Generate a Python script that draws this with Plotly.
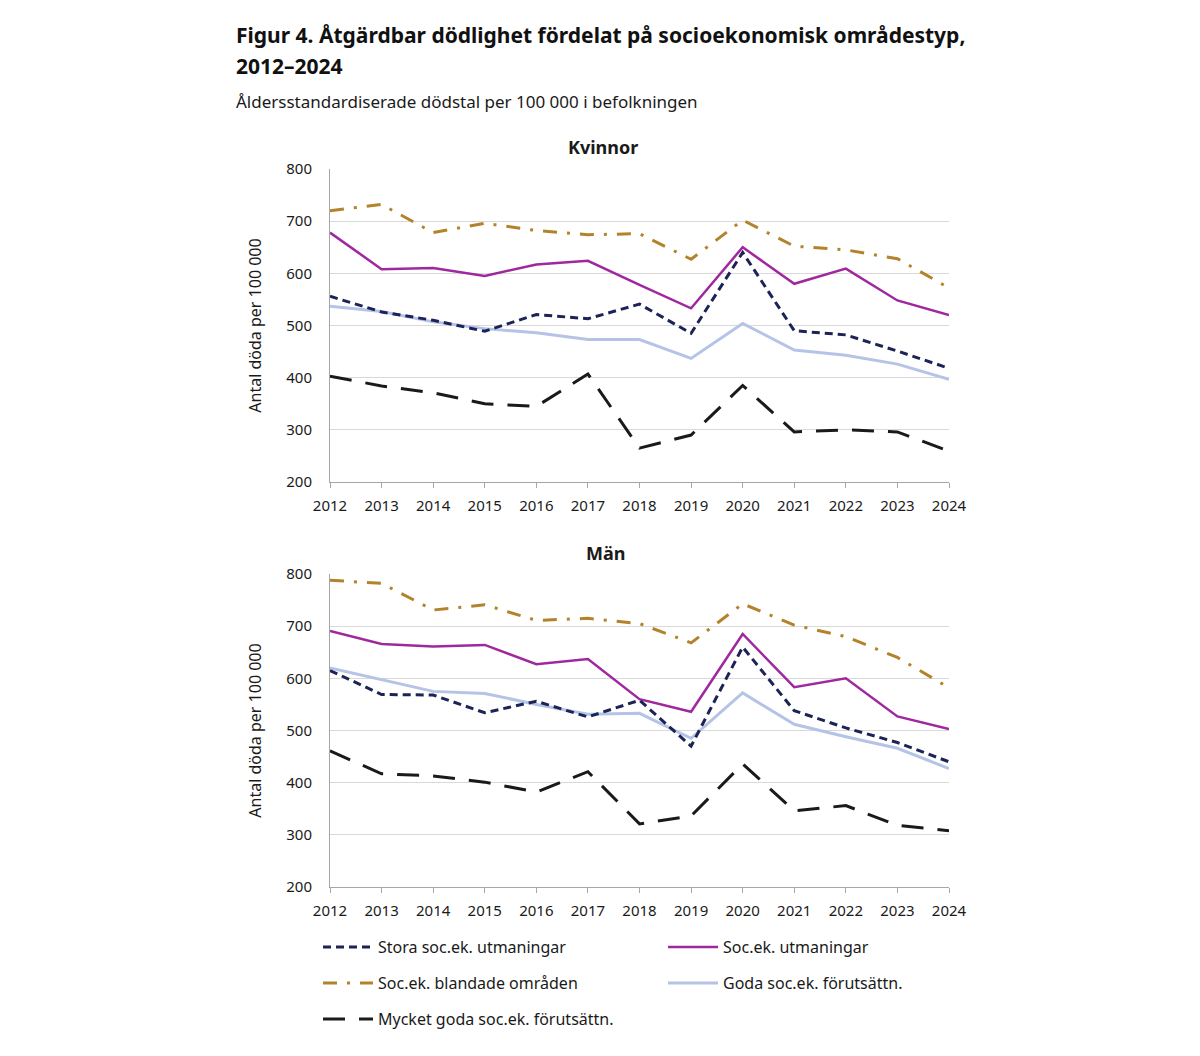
import plotly.graph_objects as go

years = list(range(2012, 2025))

series_names = [
    "Stora soc.ek. utmaningar",
    "Soc.ek. utmaningar",
    "Soc.ek. blandade områden",
    "Goda soc.ek. förutsättn.",
    "Mycket goda soc.ek. förutsättn.",
]

# Kvinnor
k_stora = [556, 526, 510, 489, 521, 513, 541, 485, 640, 490, 482, 451, 418]
k_utman = [678, 608, 610, 595, 617, 624, 578, 533, 650, 580, 609, 548, 520]
k_bland = [720, 732, 678, 696, 682, 674, 676, 627, 702, 652, 645, 628, 572]
k_goda = [537, 527, 507, 494, 486, 473, 473, 437, 504, 453, 443, 426, 397]
k_mycket = [403, 384, 371, 350, 345, 407, 265, 290, 385, 296, 300, 296, 259]

# Män
m_stora = [615, 569, 568, 534, 556, 526, 558, 470, 660, 538, 505, 477, 440]
m_utman = [691, 666, 661, 664, 627, 637, 560, 536, 685, 583, 600, 527, 503]
m_bland = [788, 782, 731, 741, 711, 715, 705, 668, 743, 702, 680, 640, 582]
m_goda = [620, 597, 575, 571, 550, 531, 533, 485, 572, 512, 488, 466, 427]
m_mycket = [461, 417, 413, 401, 382, 421, 321, 336, 436, 346, 356, 318, 308]

styles = [
    dict(color="#1c2356", width=3, dash="8px,5px"),
    dict(color="#a0289f", width=2.5, dash="solid"),
    dict(color="#b3832b", width=3, dash="14px,10px,3px,10px"),
    dict(color="#b5c4e6", width=3, dash="solid"),
    dict(color="#1a1a1a", width=3, dash="22px,14px"),
]
legend_ids = ["legend", "legend", "legend2", "legend2", "legend3"]

FONT = "Noto Sans"
fig = go.Figure()

kv = [k_stora, k_utman, k_bland, k_goda, k_mycket]
mn = [m_stora, m_utman, m_bland, m_goda, m_mycket]

# draw order: light lines first so dark lines sit on top
order = [3, 2, 1, 4, 0]
for i in order:
    fig.add_trace(go.Scatter(x=years, y=kv[i], mode="lines", line=styles[i],
                             name=series_names[i], showlegend=False,
                             xaxis="x", yaxis="y", hoverinfo="x+y+name"))
for i in order:
    fig.add_trace(go.Scatter(x=years, y=mn[i], mode="lines", line=styles[i],
                             name=series_names[i], showlegend=True,
                             legend=legend_ids[i], legendrank=i,
                             xaxis="x2", yaxis="y2", hoverinfo="x+y+name"))

W, H = 1200, 1056
x0, x1 = 330 / W, 949 / W
top_dom = [(H - 482) / H, (H - 169) / H]
bot_dom = [(H - 887) / H, (H - 574) / H]

xcommon = dict(range=[2012, 2024], tickmode="array", tickvals=years,
               ticktext=[str(y) for y in years], showgrid=False,
               showline=True, linecolor="#a6a6a6", linewidth=1,
               ticks="outside", ticklen=5, tickcolor="#a6a6a6",
               ticklabelstandoff=5,
               tickfont=dict(family=FONT, size=15, color="#1a1a1a"),
               zeroline=False, fixedrange=True, automargin=False)
ycommon = dict(range=[200, 800], dtick=100, showgrid=True, gridcolor="#d9d9d9",
               gridwidth=1, showline=True, linecolor="#a6a6a6", linewidth=1,
               ticks="", ticklabelstandoff=14,
               tickfont=dict(family=FONT, size=15, color="#1a1a1a"),
               zeroline=False, fixedrange=True, automargin=False,
               title=dict(text="Antal döda per 100 000",
                          font=dict(family=FONT, size=16, color="#1a1a1a"),
                          standoff=20))

legend_common = dict(orientation="h", xanchor="left", yanchor="middle",
                     entrywidth=280, entrywidthmode="pixels",
                     font=dict(family=FONT, size=16, color="#1a1a1a"),
                     bgcolor="rgba(0,0,0,0)", itemwidth=50,
                     traceorder="normal")

fig.update_layout(
    width=W, height=H,
    margin=dict(l=0, r=0, t=0, b=0, pad=0, autoexpand=False),
    paper_bgcolor="white", plot_bgcolor="white",
    font=dict(family=FONT, color="#1a1a1a"),
    xaxis=dict(domain=[x0, x1], anchor="y", **xcommon),
    yaxis=dict(domain=top_dom, anchor="x", **ycommon),
    xaxis2=dict(domain=[x0, x1], anchor="y2", **xcommon),
    yaxis2=dict(domain=bot_dom, anchor="x2", **ycommon),
    legend=dict(x=318 / W, y=(H - 947) / H, **legend_common),
    legend2=dict(x=318 / W, y=(H - 983) / H, **legend_common),
    legend3=dict(x=318 / W, y=(H - 1019) / H, **legend_common),
    showlegend=True,
    annotations=[
        dict(text="<b>Figur 4. Åtgärdbar dödlighet fördelat på socioekonomisk områdestyp,</b>",
             x=234 / W, y=(H - 35) / H, xref="paper", yref="paper",
             xanchor="left", yanchor="middle", showarrow=False,
             font=dict(family=FONT, size=21, color="#111111")),
        dict(text="<b>2012–2024</b>",
             x=234 / W, y=(H - 66) / H, xref="paper", yref="paper",
             xanchor="left", yanchor="middle", showarrow=False,
             font=dict(family=FONT, size=21, color="#111111")),
        dict(text="Åldersstandardiserade dödstal per 100 000 i befolkningen",
             x=234 / W, y=(H - 102) / H, xref="paper", yref="paper",
             xanchor="left", yanchor="middle", showarrow=False,
             font=dict(family=FONT, size=17, color="#1a1a1a")),
        dict(text="<b>Kvinnor</b>",
             x=603 / W, y=(H - 147) / H, xref="paper", yref="paper",
             xanchor="center", yanchor="middle", showarrow=False,
             font=dict(family=FONT, size=18, color="#1a1a1a")),
        dict(text="<b>Män</b>",
             x=605 / W, y=(H - 553) / H, xref="paper", yref="paper",
             xanchor="center", yanchor="middle", showarrow=False,
             font=dict(family=FONT, size=18, color="#1a1a1a")),
    ],
)

fig.write_html("out.html", config={"displayModeBar": False},
               post_script="document.body.style.margin='0';document.body.style.overflow='hidden';")
